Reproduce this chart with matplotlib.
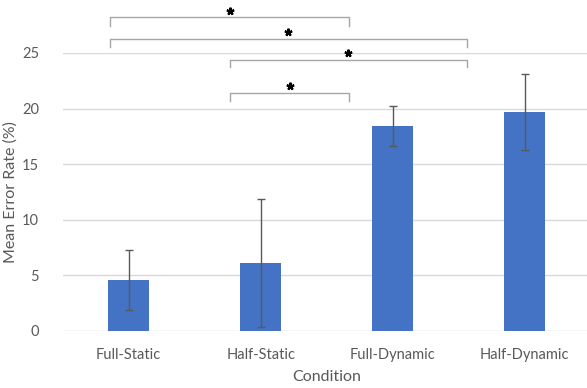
import numpy as np
import matplotlib
matplotlib.use("Agg")
import matplotlib.pyplot as plt

conditions = ["Full-Static", "Half-Static", "Full-Dynamic", "Half-Dynamic"]
means = [4.6, 6.1, 18.4, 19.7]
err_low = [1.9, 0.4, 16.6, 16.3]
err_high = [7.3, 11.9, 20.2, 23.1]

# significance brackets (left x, right x, bar height, tick bottom), x in category units
br_left = [-0.14, -0.14, 0.77, 0.77]
br_right = [1.67, 2.56, 2.56, 1.67]
br_top = [28.2, 26.3, 24.4, 21.4]
br_foot = [27.4, 25.5, 23.7, 20.7]

plt.rcParams['font.family'] = ['Lato', 'DejaVu Sans']
txt = '#595959'

fig = plt.figure(figsize=(5.87, 3.88), dpi=100)
ax = fig.add_axes([62.7/587, 57/388, 528/587, 278/388])

x = np.arange(len(conditions))
m = np.array(means)
yerr = [m - np.array(err_low), np.array(err_high) - m]
ax.bar(x, m, width=0.31, color='#4472C4', zorder=2)
ax.errorbar(x, m, yerr=yerr, fmt='none', ecolor='#595959', elinewidth=1,
            capsize=3, capthick=1, zorder=3)

ax.set_xlim(-0.5, 3.5)
ax.set_ylim(0, 25)
ax.set_yticks([0, 5, 10, 15, 20, 25])
ax.set_xticks(x)
ax.set_xticklabels(conditions)
ax.grid(axis='y', color='#D9D9D9', linewidth=1, zorder=0)
for s in ax.spines.values():
    s.set_visible(False)
ax.tick_params(length=0, colors=txt, labelsize=10.5)
ax.tick_params(axis='y', pad=17)
ax.tick_params(axis='x', pad=12)
ax.set_xlabel("Condition", color=txt, fontsize=11.5, labelpad=6)
ax.set_ylabel("Mean Error Rate (%)", color=txt, fontsize=11.5, labelpad=3)

for l, r, t, f in zip(br_left, br_right, br_top, br_foot):
    ax.plot([l, l, r, r], [f, t, t, f], color='#A6A6A6', linewidth=1, clip_on=False)
    ax.plot((l + r) / 2, t + 0.6, marker=(5, 2, 0), markersize=5.5, color='black',
            markeredgewidth=1.5, linestyle='none', clip_on=False)

fig.savefig("out.png", dpi=100)
